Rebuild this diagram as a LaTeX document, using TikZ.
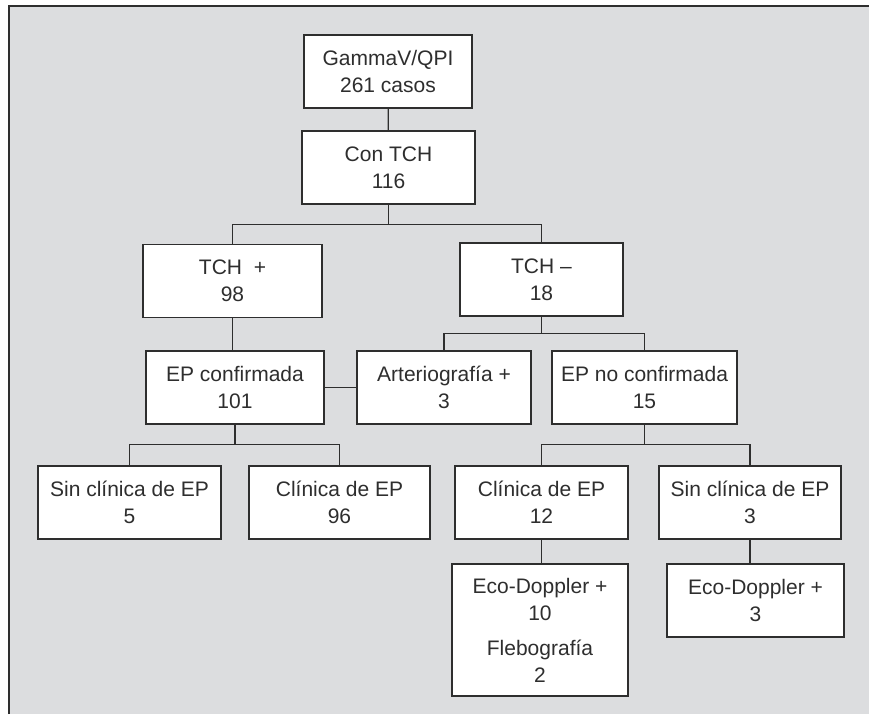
\documentclass[tikz,border=0pt]{standalone}
\usepackage{fontspec}
\setmainfont{Liberation Sans}
\usepackage{xcolor}
\usepackage{tikz}
\usetikzlibrary{positioning}
\definecolor{panel}{HTML}{DCDDDF}
\definecolor{ink}{HTML}{2E2E2E}
\tikzset{
  casebox/.style={draw=ink, fill=white, line width=0.6pt, align=center, text=ink,
    font=\fontsize{10.5}{13.5}\selectfont, minimum height=36.5pt, inner sep=2pt},
  link/.style={draw=ink, line width=0.6pt}
}

\begin{document}
\begin{tikzpicture}[x=0.5pt, y=-0.5pt]
        % Panel
        \useasboundingbox (0,0) rectangle (869,714);
        \fill[panel] (8,5) rectangle (869,714);
        \draw[ink, line width=1pt] (8.5,714) -- (8.5,5.5) -- (869,5.5);

        % Top
        \node[casebox, minimum width=84pt] (gamma) at (388,71.5) {GammaV/QPI\\261 casos};
        \node[casebox, minimum width=86.5pt] (conTCH) at (388.5,167.5) {Con TCH\\116};

        % TCH result
        \node[casebox, minimum width=89.5pt] (tchPos) at (232.5,281) {TCH\ \ +\\98};
        \node[casebox, minimum width=81.5pt] (tchNeg) at (541.5,279.5) {TCH --\\18};

        % Confirmation
        \node[casebox, minimum width=89pt] (epConf) at (235,387.5) {EP confirmada\\101};
        \node[casebox, minimum width=87pt] (arterio) at (444,387.5) {Arteriografía +\\3};
        \node[casebox, minimum width=92.5pt] (epNoConf) at (644.5,387.5) {EP no confirmada\\15};

        % Clinical
        \node[casebox, minimum width=91.5pt] (sinClin5) at (129.5,502.5) {Sin clínica de EP\\5};
        \node[casebox, minimum width=90.5pt] (clin96) at (339.5,502.5) {Clínica de EP\\96};
        \node[casebox, minimum width=86.5pt] (clin12) at (541.5,502.5) {Clínica de EP\\12};
        \node[casebox, minimum width=91pt] (sinClin3) at (750,502.5) {Sin clínica de EP\\3};

        % Tests
        \node[casebox, minimum width=88pt, minimum height=66pt] (eco10) at (540,630)
          {Eco-Doppler +\\10\\[4pt]Flebografía\\2};
        \node[casebox, minimum width=88.5pt] (eco3) at (755.5,600.5) {Eco-Doppler +\\3};

        % Connectors
        \draw[link] (gamma) -- (conTCH);
        \draw[link] (conTCH.south) -- ++(0,20) coordinate (split1);
        \draw[link] (split1) -| (tchPos.north);
        \draw[link] (split1) -| (tchNeg.north);
        \draw[link] (tchPos.south) -- (tchPos.south |- epConf.north);
        \draw[link] (tchNeg.south) -- ++(0,17) coordinate (split2);
        \draw[link] (split2) -| (arterio.north);
        \draw[link] (split2) -| (epNoConf.north);
        \draw[link] (epConf) -- (arterio);
        \draw[link] (epConf.south) -- ++(0,20) coordinate (split3);
        \draw[link] (split3) -| (sinClin5.north);
        \draw[link] (split3) -| (clin96.north);
        \draw[link] (epNoConf.south) -- ++(0,20) coordinate (split4);
        \draw[link] (split4) -| (clin12.north);
        \draw[link] (split4) -| (sinClin3.north);
        \draw[link] (clin12) -- (clin12.south |- eco10.north);
        \draw[link] (sinClin3.south) -- (sinClin3.south |- eco3.north);
\end{tikzpicture}
\end{document}
